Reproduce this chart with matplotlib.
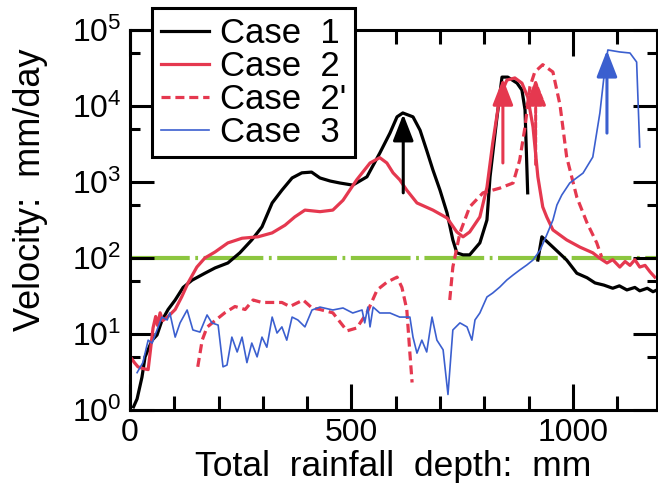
import numpy as np
import matplotlib
matplotlib.use("Agg")
import matplotlib.pyplot as plt

plt.rcParams["font.family"] = ["Liberation Sans", "DejaVu Sans"]
plt.rcParams["mathtext.fontset"] = "custom"
plt.rcParams["mathtext.rm"] = "Liberation Sans"
plt.rcParams["lines.scale_dashes"] = False

nan = np.nan

# Case 1 (black)
case1_x = [8, 16, 27, 34, 50, 61, 72, 86, 102, 120, 140, 169, 192, 221, 248, 275, 298,
           321, 343, 366, 388, 410, 429, 452, 474, 503, 535, 564, 587, 603, 616, 639,
           655, 670, 684, 700, 716, 729, 738, 752, 767, 790, 806, 813, 828, 840, 853,
           874, 885, 892, 898, nan, 921, 930, 955, 986, 1009, 1032, 1050, 1070, 1090,
           1105, 1122, 1140, 1151, 1168, 1181, 1190]
case1_v = [1.1, 1.4, 2.7, 5, 8.3, 9.7, 15, 21, 28, 41, 51, 63, 74, 86, 117, 173, 257,
           530, 780, 1130, 1320, 1350, 1130, 1030, 970, 910, 1170, 2400, 4400, 7200, 8100, 7200,
           4800, 2600, 1440, 780, 390, 173, 117, 110, 110, 158, 316, 1170, 6600, 24000, 24000,
           20000, 16200, 8900, 720, nan, 94, 190, 139, 94, 63, 55, 47, 44, 40,
           43, 38, 41, 37, 40, 36, 38]

# Case 2 (red solid)
case2_x = [0, 1, 10, 18, 30, 41, 46, 52, 58, 62, 68, 74, 86, 102, 117, 131, 151, 169,
           192, 221, 253, 289, 321, 350, 372, 395, 429, 458, 481, 512, 542, 564, 580,
           594, 609, 625, 648, 684, 716, 738, 752, 767, 790, 806, 819, 835, 851, 869,
           885, 898, 910, 921, 932, 941, 955, 986, 1016, 1045, 1060, 1077, 1090, 1106,
           1118, 1129, 1140, 1151, 1163, 1174, 1185]
case2_v = [1.0, 5, 4.2, 3.7, 3.5, 3.4, 6, 12, 17, 13, 19, 15, 17, 21, 31, 47, 76, 100,
           120, 158, 182, 190, 214, 270, 347, 427, 407, 427, 575, 1070, 1780, 2090, 1780,
           1320, 1070, 780, 530, 427, 336, 220, 190, 220, 347, 850, 3240, 13200, 21900, 23400,
           20000, 13200, 5300, 1170, 470, 347, 234, 173, 139, 117, 100, 86, 95, 76,
           90, 80, 95, 76, 80, 66, 56]

# Case 2' (red dashed)
case2d_x = [153, 163, 174, 192, 214, 237, 260, 278, 298, 316, 343, 361, 391, 411, 429,
            458, 490, 512, 535, 558, 580, 603, 614, 625, 632, 637, nan,
            722, 729, 745, 767, 797, 835, 865, 880, 892, 903, 914, 932, 955, 971, 986,
            1009, 1032, 1054, 1065]
case2d_v = [3.7, 8.3, 12.3, 15, 19, 23, 21, 28, 26, 26, 26, 23, 28, 22, 21,
            19, 11, 12, 19, 38, 48, 56, 41, 21, 5.6, 2.3, nan,
            28, 76, 214, 470, 720, 830, 970, 1950, 5300, 17800, 28000, 35000, 28000, 10300, 2140,
            630, 290, 158, 103]

# Case 3 (blue)
case3_x = [16, 29, 41, 50, 61, 72, 84, 90, 102, 113, 129, 142, 158, 174, 185, 199, 210,
           219, 230, 242, 253, 264, 275, 287, 298, 309, 321, 332, 343, 354, 366, 379,
           395, 411, 429, 458, 481, 503, 524, 530, 537, 542, 549, 564, 587, 609, 632,
           639, 648, 659, 670, 682, 693, 707, 718, 729, 745, 761, 772, 779, 790, 806,
           819, 835, 851, 865, 880, 896, 910, 926, 941, 955, 964, 975, 993, 1023, 1045,
           1061, 1072, 1079, 1106, 1129, 1144, 1151]
case3_v = [3.1, 4.2, 8.3, 7.6, 11.3, 16.7, 15.3, 18.9, 9.1, 14, 20.7, 11.3, 10.6, 17.8, 14, 13.1, 3.7,
           3.9, 9.1, 5.8, 9.1, 4.2, 7.6, 5.0, 9.1, 6.7, 16.7, 10.3, 12.4, 8.3, 16.7, 15.3,
           12.4, 20.7, 22.6, 20.7, 22, 18.9, 20.7, 14, 22.6, 12.4, 22.6, 18.9, 18.9, 16.7, 16.7,
           9.1, 5.6, 8.3, 5.8, 16.7, 8.3, 6.2, 1.6, 11.3, 14, 12.4, 8.3, 15.3, 18.9, 30.7,
           34.6, 41.5, 51.4, 59.7, 69.5, 80.9, 94, 127, 201, 316, 498, 674, 970, 1310, 2130,
           8090, 29800, 54600, 51400, 49800, 37900, 2890]

threshold = 100

# arrows marking the jumps
arrow_x = [617, 842, 916, 1077]
arrow_from = [720, 1780, 1700, 4400]
arrow_to = [7800, 23000, 23000, 54000]

red = "#e5384f"
blue = "#3b5fcf"
green = "#8cc63f"

fig = plt.figure(figsize=(6.58, 5.03), dpi=100)
ax = fig.add_axes([130 / 658, 93 / 503, 527 / 658, 380 / 503])

ax.plot([0, 1190], [threshold, threshold], color=green, lw=3, dashes=[43, 4, 2, 4], zorder=1)
ax.plot(case1_x, case1_v, color="black", lw=2.3, label="Case  1")
ax.plot(case2_x, case2_v, color=red, lw=2.3, label="Case  2")
ax.plot(case2d_x, case2d_v, color=red, lw=2.3, dashes=[6.5, 3.5], label="Case  2'")
ax.plot(case3_x, case3_v, color=blue, lw=1.2, label="Case  3")

colors = ["black", red, red, blue]
styles = ["-", "-", "--", "-"]
for xa, y0, y1, c, ls in zip(arrow_x, arrow_from, arrow_to, colors, styles):
    ax.annotate("", xy=(xa, y1), xytext=(xa, y0),
                arrowprops=dict(arrowstyle="-|>,head_length=0.9,head_width=0.35",
                                color=c, lw=2.2, linestyle=ls, shrinkA=0, shrinkB=0,
                                mutation_scale=18))

ax.set_yscale("log")
ax.set_xlim(0, 1190)
ax.set_ylim(1, 1e5)

ax.set_xticks([0, 500, 1000])
ax.set_xticks(np.arange(100, 1200, 100), minor=True)
ax.set_yticks([1, 10, 100, 1e3, 1e4, 1e5])
ax.set_yticklabels([r"$\mathregular{10^{%d}}$" % i for i in range(6)])
ax.set_yticks([5, 50, 500, 5e3, 5e4], minor=True)
ax.yaxis.set_minor_formatter(matplotlib.ticker.NullFormatter())

ax.tick_params(which="both", direction="in", top=True, right=True, width=2.2,
               labelsize=23, pad=6)
ax.tick_params(axis="x", which="major", length=19)
ax.tick_params(axis="x", which="minor", length=10)
ax.tick_params(axis="y", which="major", length=17)
ax.tick_params(axis="y", which="minor", length=7)
for sp in ax.spines.values():
    sp.set_linewidth(2.2)

ax.set_xlabel("Total  rainfall  depth:  mm", fontsize=25.5, labelpad=1)
ax.set_ylabel("Velocity:  mm/day", fontsize=26, labelpad=6)
ax.yaxis.set_label_coords(-0.155, 0.58)

leg = ax.legend(loc="upper left", bbox_to_anchor=(152 / 658, 1 - 8 / 503),
                bbox_transform=fig.transFigure, fontsize=25, frameon=True, framealpha=1,
                fancybox=False, edgecolor="black", borderpad=0.25, labelspacing=0.0,
                handlelength=1.4, handletextpad=0.3, borderaxespad=0)
leg.get_frame().set_linewidth(2.2)
leg.set_zorder(10)

fig.savefig("out.png", dpi=100)
